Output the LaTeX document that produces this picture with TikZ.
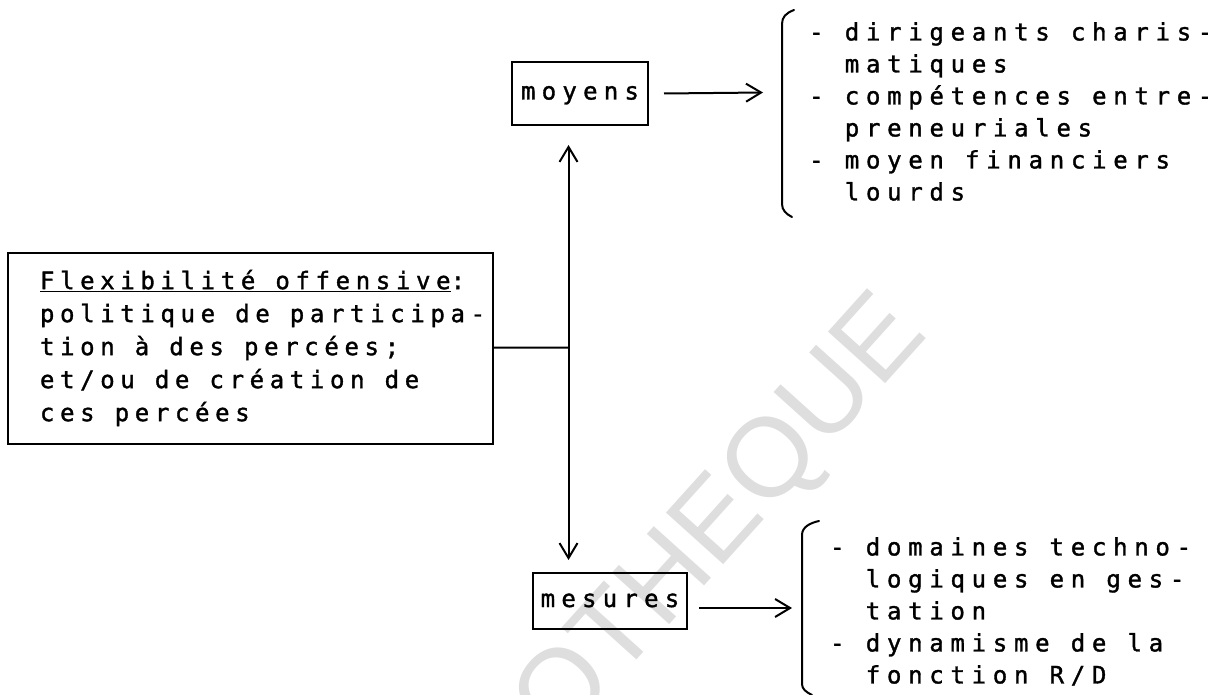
\documentclass[tikz,border=0pt]{standalone}
\usepackage{fontspec}
\usetikzlibrary{arrows.meta}
% typewriter-like faces with slightly different character pitch
\newfontfamily\twmain[LetterSpace=23.5,FakeBold=1.4]{DejaVu Sans Mono}
\newfontfamily\twbox[LetterSpace=26,FakeBold=1.4]{DejaVu Sans Mono}
\newfontfamily\twlist[LetterSpace=28,FakeBold=1.4]{DejaVu Sans Mono}
\newfontfamily\wmfont{Liberation Sans}
\begin{document}
\begin{tikzpicture}[x=1pt,y=-1pt,
  every node/.style={inner sep=0pt},
  txt/.style={font=\twbox\fontsize{24}{32}\selectfont, align=left},
  listtxt/.style={font=\twlist\fontsize{24}{32}\selectfont, align=left},
  frame/.style={draw, line width=2pt},
  link/.style={line width=2pt},
  tip/.style={-{Straight Barb[length=15pt,width=18pt,line width=2pt]}},
  brk/.style={line width=2pt, line cap=round},
]
\useasboundingbox (0,0) rectangle (1208,695);

% faint stamp across the lower right
\begin{scope}
  \clip (0,0) rectangle (1208,695);
  \node[anchor=base east, rotate=48, text=black!13,
        font=\wmfont\fontsize{112}{112}\selectfont] (wm) at (930,335) {BIBLIOTHEQUE};
\end{scope}

% boxes
\node[frame, font=\twmain\fontsize{24}{33}\selectfont, anchor=north west,
      minimum width=485pt, minimum height=191pt] (main) at (7,252)
  {\makebox[485pt][l]{\hspace*{32pt}\raisebox{-3pt}{\begin{tabular}{@{}l@{}}
   \underline{Flexibilité offensive}:\\
   politique de participa-\\
   tion à des percées;\\
   et/ou de création de\\
   ces percées
   \end{tabular}}}};

\node[frame, txt, anchor=north west, minimum width=136pt, minimum height=63pt,
      text height=17pt, text depth=5pt] (moy) at (511,61) {moyens};
\node[frame, txt, anchor=north west, minimum width=154pt, minimum height=56pt,
      text height=17pt, text depth=5pt] (mes) at (532,572) {mesures};

% lists
\node[listtxt, anchor=north west] (l1) at (809,22)
  {- dirigeants charis-\\
   \hphantom{- }matiques\\
   - compétences entre-\\
   \hphantom{- }preneuriales\\
   - moyen financiers\\
   \hphantom{- }lourds};
\node[listtxt, anchor=north west] (l2) at (830,537)
  {- domaines techno-\\
   \hphantom{- }logiques en ges-\\
   \hphantom{- }tation\\
   - dynamisme de la\\
   \hphantom{- }fonction R/D};

% brackets
\draw[brk] (794,10) .. controls (786,13) and (782,17) .. (782,24) -- (782,204)
  .. controls (782,210) and (786,214) .. (792,217);
\draw[brk] (819,521) .. controls (810,523) and (802,527) .. (802,535) -- (802,684)
  .. controls (802,689) and (806,692) .. (812,695);

% connectors
\coordinate (j) at (568.5,347.5);
\coordinate (b1) at (763,92.5);
\coordinate (b2) at (792,608);
\draw[link] (main) -- (j);
\draw[link,tip] (j) -- ([yshift=-19pt]j |- moy.south);
\draw[link,tip] (j) -- ([yshift=12pt]j |- mes.north);
\draw[link,tip] ([xshift=15pt]moy.east) -- (b1);
\draw[link,tip] ([xshift=11pt]mes.east |- b2) -- (b2);
\end{tikzpicture}
\end{document}
